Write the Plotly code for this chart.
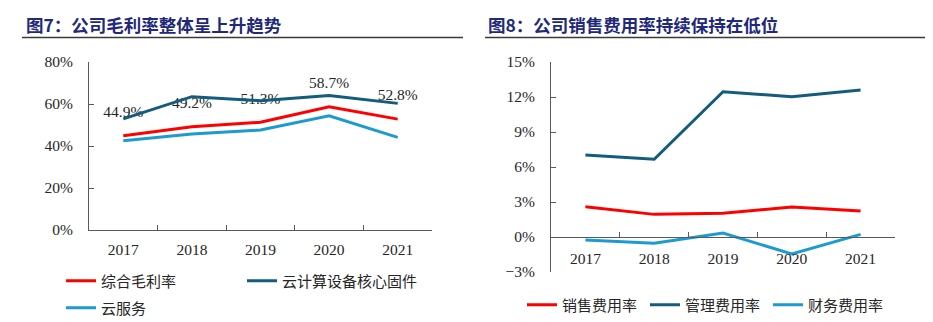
import plotly.graph_objects as go

years = ["2017", "2018", "2019", "2020", "2021"]

# Figure 7: gross margin (%)
gross_total = [44.9, 49.2, 51.3, 58.7, 52.8]      # 综合毛利率
gross_cloud_fw = [52.9, 63.5, 61.6, 64.0, 60.3]   # 云计算设备核心固件
gross_cloud_svc = [42.5, 45.7, 47.6, 54.4, 44.1]  # 云服务
gross_labels = ["44.9%", "49.2%", "51.3%", "58.7%", "52.8%"]

# Figure 8: expense ratios (%)
sales_ratio = [2.6, 1.94, 2.03, 2.57, 2.23]       # 销售费用率
admin_ratio = [7.03, 6.66, 12.45, 12.03, 12.6]    # 管理费用率
fin_ratio = [-0.26, -0.54, 0.34, -1.46, 0.23]     # 财务费用率

left_range = [0, 80]
right_range = [-3, 15]

W, H = 933, 322
RED = "#FF0000"
DARK = "#125C7E"
LIGHT = "#1C9BD1"
AXIS = "#595959"
TXT = "#262626"
TITLE = "#22287A"
SERIF = "Liberation Serif"
CJK = "Noto Sans CJK SC"

def px_x(p):
    return p / W

def px_y(p):
    return 1 - p / H

fig = go.Figure()

# data labels (drawn first so lines sit above them)
fig.add_trace(go.Scatter(
    x=years, y=gross_total, mode="markers+text", text=gross_labels,
    textposition="top center", marker=dict(size=22, color="rgba(0,0,0,0)"),
    textfont=dict(family=SERIF, size=15.5, color=TXT),
    showlegend=False, hoverinfo="skip", xaxis="x", yaxis="y", cliponaxis=False))

fig.add_trace(go.Scatter(x=years, y=gross_total, mode="lines", name="综合毛利率",
                         line=dict(color=RED, width=3), xaxis="x", yaxis="y", legend="legend"))
fig.add_trace(go.Scatter(x=years, y=gross_cloud_fw, mode="lines", name="云计算设备核心固件",
                         line=dict(color=DARK, width=3), xaxis="x", yaxis="y", legend="legend"))
fig.add_trace(go.Scatter(x=years, y=gross_cloud_svc, mode="lines", name="云服务",
                         line=dict(color=LIGHT, width=3), xaxis="x", yaxis="y", legend="legend2"))

fig.add_trace(go.Scatter(x=years, y=sales_ratio, mode="lines", name="销售费用率",
                         line=dict(color=RED, width=3), xaxis="x2", yaxis="y2", legend="legend3"))
fig.add_trace(go.Scatter(x=years, y=admin_ratio, mode="lines", name="管理费用率",
                         line=dict(color=DARK, width=3), xaxis="x2", yaxis="y2", legend="legend3"))
fig.add_trace(go.Scatter(x=years, y=fin_ratio, mode="lines", name="财务费用率",
                         line=dict(color=LIGHT, width=3), xaxis="x2", yaxis="y2", legend="legend3"))

y1_dom = [px_y(230), px_y(62)]
y2_dom = [px_y(272), px_y(62)]
zero_pos = y2_dom[0] + (0 - right_range[0]) / (right_range[1] - right_range[0]) * (y2_dom[1] - y2_dom[0])
cat_range = [-0.5, len(years) - 0.5]

common_x = dict(type="category", tickson="boundaries", ticks="inside", ticklen=5,
                tickcolor=AXIS, showline=True, linecolor=AXIS, linewidth=1,
                showgrid=False, zeroline=False, automargin=False, range=cat_range,
                tickfont=dict(family=SERIF, size=15.5, color=TXT))
common_y = dict(ticks="inside", ticklen=5, tickcolor=AXIS, showline=True, linecolor=AXIS,
                linewidth=1, showgrid=False, zeroline=False, ticksuffix="%", automargin=False,
                tickfont=dict(family=SERIF, size=15.5, color=TXT), ticklabelstandoff=12)

leg_common = dict(orientation="h", font=dict(family=CJK, size=15, color=TXT),
                  bgcolor="rgba(0,0,0,0)", borderwidth=0, xanchor="left", yanchor="middle",
                  tracegroupgap=0, itemwidth=30)

fig.update_layout(
    width=W, height=H, margin=dict(l=0, r=0, t=0, b=0, pad=0, autoexpand=False),
    paper_bgcolor="white", plot_bgcolor="white",
    xaxis=dict(domain=[px_x(89), px_x(432)], anchor="y", ticklabelstandoff=5, **common_x),
    yaxis=dict(domain=y1_dom, anchor="x", range=left_range, dtick=20, **common_y),
    xaxis2=dict(domain=[px_x(551), px_x(895)], anchor="free", position=zero_pos,
                ticklabelstandoff=7, **common_x),
    yaxis2=dict(domain=y2_dom, anchor="x2", range=right_range, dtick=3, **common_y),
    legend=dict(x=px_x(61), y=px_y(281), entrywidth=136, **leg_common),
    legend2=dict(x=px_x(61), y=px_y(308), **leg_common),
    legend3=dict(x=px_x(522), y=px_y(305), entrywidth=78, **leg_common),
    annotations=[
        dict(text="<b>图7：公司毛利率整体呈上升趋势</b>", xref="paper", yref="paper",
             x=px_x(24), y=px_y(24), xanchor="left", yanchor="middle", showarrow=False,
             font=dict(family=CJK, size=17.5, color=TITLE)),
        dict(text="<b>图8：公司销售费用率持续保持在低位</b>", xref="paper", yref="paper",
             x=px_x(486), y=px_y(24), xanchor="left", yanchor="middle", showarrow=False,
             font=dict(family=CJK, size=17.5, color=TITLE)),
    ],
    shapes=[
        dict(type="line", xref="paper", yref="paper", x0=px_x(22), x1=px_x(463),
             y0=px_y(37.5), y1=px_y(37.5), line=dict(color="#3A3A3A", width=1.5)),
        dict(type="line", xref="paper", yref="paper", x0=px_x(485), x1=px_x(925),
             y0=px_y(37.5), y1=px_y(37.5), line=dict(color="#3A3A3A", width=1.5)),
    ],
)

fig.write_html("out.html")
